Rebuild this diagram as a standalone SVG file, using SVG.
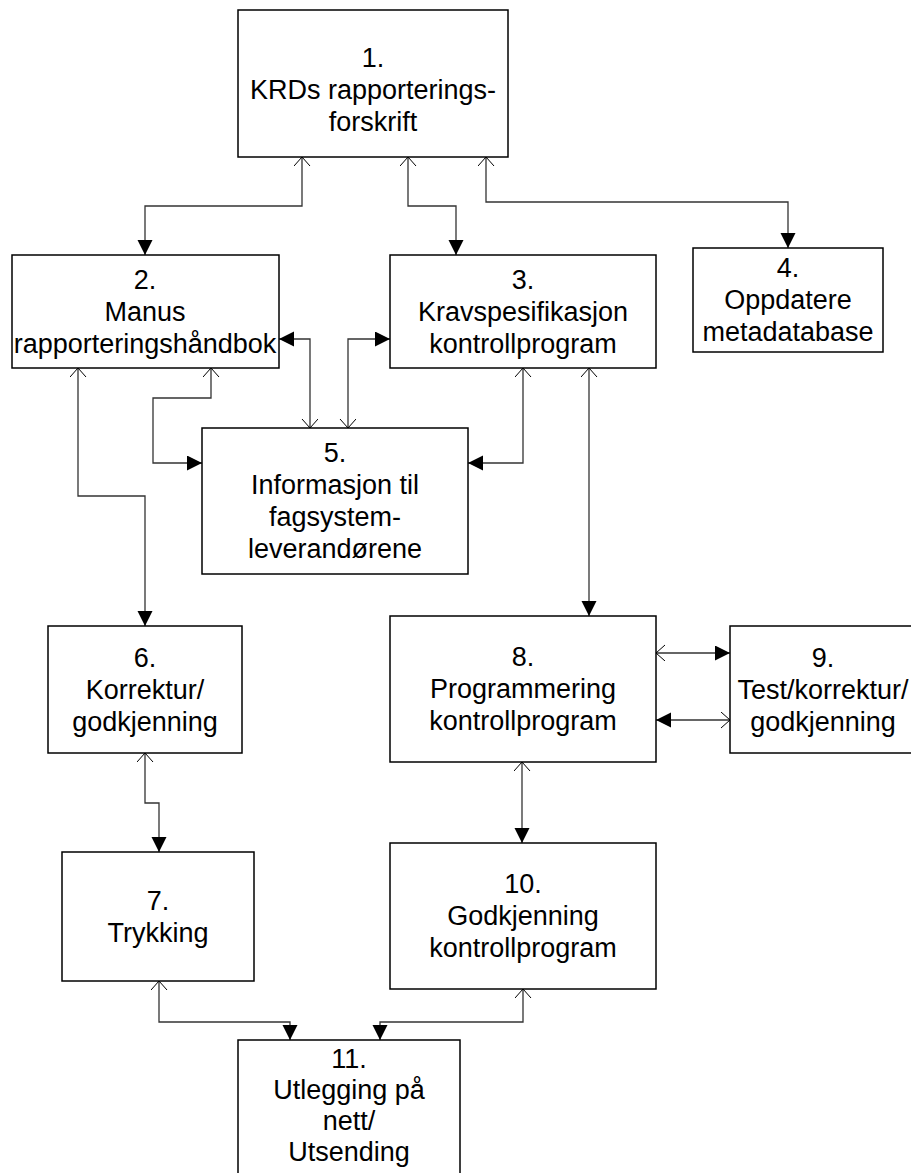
<svg xmlns="http://www.w3.org/2000/svg" width="911" height="1173" viewBox="0 0 911 1173">
<style>
.box{fill:#fff;stroke:#000;stroke-width:1.5}
.t{font-family:"Liberation Sans",Arial,sans-serif;font-size:27px;fill:#000;text-anchor:middle}
.c{fill:none;stroke:#333;stroke-width:1.3;marker-start:url(#oa);marker-end:url(#fa)}
</style>
<defs>
<marker id="fa" markerUnits="userSpaceOnUse" markerWidth="16" markerHeight="16" refX="15" refY="7.5" orient="auto"><path d="M0,0 L15,7.5 L0,15 Z" fill="#000"/></marker>
<marker id="oa" markerUnits="userSpaceOnUse" markerWidth="12" markerHeight="20" refX="9" refY="8" orient="auto-start-reverse"><path d="M0,0 L9,8 L0,16" fill="none" stroke="#000" stroke-width="1"/></marker>
</defs>
<rect width="911" height="1173" fill="#fff"/>
<g id="connectors">
<path class="c" d="M302,157 V206 H145 V255"/>
<path class="c" d="M408,157 V206 H456 V255"/>
<path class="c" d="M486,157 V202 H788 V248"/>
<path class="c" d="M310,428 V339 H279"/>
<path class="c" d="M348,428 V339 H390"/>
<path class="c" d="M211,368 V398 H153 V463 H202"/>
<path class="c" d="M523,368 V463 H468"/>
<path class="c" d="M78,368 V496 H145 V626"/>
<path class="c" d="M589,368 V616"/>
<path class="c" d="M145,753 V803 H159 V852"/>
<path class="c" d="M656,653 H730"/>
<path class="c" d="M730,720 H656"/>
<path class="c" d="M522,762 V843"/>
<path class="c" d="M159,981 V1022 H290 V1040"/>
<path class="c" d="M523,989 V1022 H380 V1040"/>
</g>
<g id="n1"><rect class="box" x="238" y="10" width="270" height="147"/><text class="t"><tspan x="373" y="67">1.</tspan><tspan x="373" y="99">KRDs rapporterings-</tspan><tspan x="373" y="131">forskrift</tspan></text></g>
<g id="n2"><rect class="box" x="12" y="255" width="267" height="113"/><text class="t"><tspan x="145" y="289">2.</tspan><tspan x="145" y="321">Manus</tspan><tspan x="145" y="353">rapporteringshåndbok</tspan></text></g>
<g id="n3"><rect class="box" x="390" y="255" width="266" height="113"/><text class="t"><tspan x="523" y="289">3.</tspan><tspan x="523" y="321">Kravspesifikasjon</tspan><tspan x="523" y="353">kontrollprogram</tspan></text></g>
<g id="n4"><rect class="box" x="693" y="248" width="190" height="104"/><text class="t"><tspan x="788" y="277">4.</tspan><tspan x="788" y="309">Oppdatere</tspan><tspan x="788" y="341">metadatabase</tspan></text></g>
<g id="n5"><rect class="box" x="202" y="428" width="266" height="146"/><text class="t"><tspan x="335" y="462">5.</tspan><tspan x="335" y="494">Informasjon til</tspan><tspan x="335" y="526">fagsystem-</tspan><tspan x="335" y="558">leverandørene</tspan></text></g>
<g id="n6"><rect class="box" x="48" y="626" width="194" height="127"/><text class="t"><tspan x="145" y="667">6.</tspan><tspan x="145" y="699">Korrektur/</tspan><tspan x="145" y="731">godkjenning</tspan></text></g>
<g id="n7"><rect class="box" x="62" y="852" width="192" height="129"/><text class="t"><tspan x="158" y="910">7.</tspan><tspan x="158" y="942">Trykking</tspan></text></g>
<g id="n8"><rect class="box" x="390" y="616" width="266" height="146"/><text class="t"><tspan x="523" y="666">8.</tspan><tspan x="523" y="698">Programmering</tspan><tspan x="523" y="730">kontrollprogram</tspan></text></g>
<g id="n9"><rect class="box" x="730" y="626" width="190" height="127"/><text class="t"><tspan x="823" y="667">9.</tspan><tspan x="823" y="699">Test/korrektur/</tspan><tspan x="823" y="731">godkjenning</tspan></text></g>
<g id="n10"><rect class="box" x="390" y="843" width="266" height="146"/><text class="t"><tspan x="523" y="893">10.</tspan><tspan x="523" y="925">Godkjenning</tspan><tspan x="523" y="957">kontrollprogram</tspan></text></g>
<g id="n11"><rect class="box" x="238" y="1040" width="222" height="160"/><text class="t"><tspan x="349" y="1068">11.</tspan><tspan x="349" y="1099">Utlegging på</tspan><tspan x="349" y="1130">nett/</tspan><tspan x="349" y="1161">Utsending</tspan></text></g>
</svg>
